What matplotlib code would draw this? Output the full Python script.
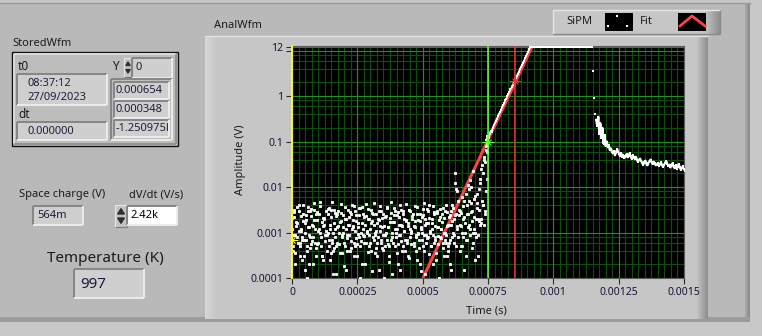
import matplotlib
matplotlib.use('Agg')
import matplotlib.pyplot as plt
import numpy as np
from matplotlib.patches import Rectangle, Polygon

plt.rcParams['font.family'] = ['Noto Sans', 'DejaVu Sans']

# ---- data ----
dt = 4e-6  # sample spacing of the waveform (s)

# baseline noise before the pulse, in mV, samples at 0, dt, 2dt ...
noise_a_mV = [
    2.1, 0.4, 3.2, 0.9, 0.05, 1.6, 0.6, 4.1, 0.3, 1.2,
    0.7, 2.6, 0.15, 1.9, 0.5, 3.6, 0.2, 0.8, 2.3, 0.04,
    1.4, 4.4, 0.6, 0.3, 2.8, 1.1, 0.08, 3.9, 0.5, 1.7,
    0.25, 2.0, 0.9, 0.06, 3.3, 0.7, 1.5, 0.35, 4.6, 1.0,
    0.45, 2.7, 0.12, 1.3, 3.0, 0.55, 0.03, 1.8, 0.8, 2.4,
    0.18, 3.7, 1.2, 0.4, 0.09, 2.2, 0.65, 4.0, 1.4, 0.3,
    2.9, 0.75, 0.07, 1.6, 3.4, 0.5, 1.0, 0.2, 2.5, 0.85,
    0.05, 4.3, 1.1, 0.38, 2.0, 0.6, 3.1, 0.14, 1.5, 0.9,
    2.6, 0.3, 0.02, 1.9, 3.8, 0.7, 1.3, 0.42, 0.1, 2.2,
    1.0, 3.5, 0.55, 0.22, 1.7, 4.8, 0.8, 0.06, 2.4, 1.2,
    0.35, 2.8, 0.9, 0.15, 3.2, 1.4, 0.5, 2.0, 0.04, 4.2,
    0.7, 1.6, 0.28, 3.0, 1.1, 0.08, 2.5, 0.6, 1.8, 0.4,
    3.6, 0.95, 0.2, 1.3, 2.2, 0.5, 4.5, 0.12, 1.6, 0.75,
    2.9, 0.33, 1.0, 0.05, 2.0, 3.9, 0.6, 1.4, 0.25, 2.7,
    0.85, 0.1, 3.3, 1.2, 0.45, 2.1, 0.7, 4.0, 0.3, 1.5,
    0.6, 2.4, 0.15, 1.8, 3.5, 0.9, 20.0, 2.6, 8.0, 0.07,
    3.1, 1.5, 0.5, 6.0, 0.8, 2.2, 0.3, 4.0, 1.3, 9.0,
    14.0, 2.8, 0.45, 1.0, 5.5, 0.25, 2.0, 7.0, 0.9, 3.2,
    12.0, 1.6, 30.0, 4.0, 45.0, 2.5, 80.0, 60.0,
]
# in-between samples, in mV, at dt/2, dt/2 + dt ...
noise_b_mV = [
    0.9, 2.8, 0.2, 1.4, 3.7, 0.06, 1.1, 0.5, 2.3, 0.8,
    4.0, 0.3, 1.6, 0.7, 0.1, 2.9, 1.3, 0.45, 3.3, 0.65,
    0.2, 1.9, 2.5, 0.55, 0.04, 1.2, 4.7, 0.8, 0.3, 2.1,
    1.5, 0.07, 2.9, 0.4, 1.0, 3.5, 0.25, 2.2, 0.6, 0.12,
    3.1, 1.2, 0.5, 2.5, 0.08, 1.7, 4.2, 0.35, 1.0, 0.6,
    2.0, 0.15, 0.9, 3.2, 1.5, 0.4, 2.6, 0.05, 1.3, 3.8,
    0.5, 1.8, 0.3, 0.95, 2.4, 0.1, 3.6, 1.2, 0.6, 0.2,
    2.3, 1.0, 3.3, 0.5, 0.03, 1.6, 2.7, 0.8, 4.4, 0.35,
    1.1, 0.6, 2.0, 0.15, 1.4, 3.0, 0.45, 2.5, 0.9, 0.07,
    3.7, 1.3, 0.3, 2.1, 0.7, 0.12, 1.7, 3.4, 0.5, 1.0,
    2.4, 0.2, 1.5, 4.0, 0.65, 0.09, 2.9, 1.1, 0.4, 1.8,
    0.3, 3.1, 1.2, 0.55, 2.3, 0.06, 1.4, 3.8, 0.8, 0.25,
    1.9, 0.7, 2.6, 0.14, 1.0, 3.3, 0.4, 2.0, 0.9, 0.05,
    1.6, 4.1, 0.5, 1.2, 0.2, 2.5, 0.8, 0.35, 3.0, 1.3,
    0.1, 2.2, 0.75, 1.7, 3.5, 0.3, 1.0, 0.6, 2.8, 0.4,
    1.5, 0.2, 3.0, 0.8, 2.0, 12.0, 0.5, 1.4, 5.0, 2.4,
    0.4, 2.7, 1.0, 3.8, 0.15, 1.6, 7.0, 0.7, 2.5, 5.0,
    1.2, 10.0, 3.0, 0.6, 2.2, 1.0, 4.5, 0.3, 1.8, 15.0,
    2.0, 5.0, 20.0, 1.5, 35.0, 8.0, 90.0,
]
# third set of samples, in mV, at dt/4, dt/4 + dt ...
noise_c_mV = [
    1.2, 0.5, 2.2, 0.35, 1.7, 0.8, 2.9, 0.6, 1.1, 0.25,
    1.8, 0.7, 1.0, 2.4, 0.4, 1.3, 0.9, 3.0, 0.55, 1.5,
    0.8, 3.2, 1.2, 0.45, 1.9, 0.6, 2.5, 1.0, 0.3, 1.4,
    2.1, 0.65, 1.1, 0.9, 2.6, 0.5, 1.2, 3.1, 0.7, 0.4,
    1.6, 0.8, 2.3, 0.6, 1.4, 1.0, 0.35, 2.7, 0.9, 1.3,
    0.5, 2.0, 0.75, 1.5, 0.9, 2.8, 0.45, 1.2, 1.9, 0.6,
    1.1, 2.4, 0.55, 1.3, 0.8, 3.4, 0.65, 1.6, 0.9, 2.2,
    1.5, 0.6, 2.0, 0.9, 1.2, 0.4, 1.8, 2.6, 0.7, 1.0,
    0.45, 1.6, 0.8, 2.9, 1.1, 0.6, 2.1, 0.9, 1.4, 0.5,
    2.3, 0.7, 1.3, 0.5, 2.7, 1.0, 0.6, 1.7, 3.0, 0.8,
    1.2, 0.55, 2.2, 0.9, 1.5, 0.4, 2.5, 1.1, 0.7, 1.9,
    0.6, 1.4, 3.2, 0.8, 1.0, 2.0, 0.5, 1.3, 0.9, 2.6,
    1.0, 0.45, 1.8, 1.2, 0.7, 2.4, 0.9, 1.5, 0.6, 3.3,
    0.8, 2.1, 1.1, 0.5, 1.6, 0.9, 2.8, 0.7, 1.3, 0.55,
    1.9, 0.8, 1.2, 2.5, 0.6, 1.0, 3.0, 0.9, 1.4, 0.5,
    2.2, 0.7, 1.5, 4.0, 1.0, 0.6, 2.4, 9.0, 1.2, 0.8,
    3.0, 1.4, 0.5, 2.0, 5.0, 1.0, 0.7, 2.6, 11.0, 1.5,
    0.9, 4.5, 1.8, 22.0, 1.2, 6.5, 0.8, 3.5, 2.0, 9.0,
    1.5, 25.0, 4.0, 40.0, 3.0, 65.0, 15.0,
]
rise_t0 = 0.000744
rise_V = [
    0.11, 0.13, 0.12, 0.15, 0.17, 0.16, 0.2, 0.23, 0.25, 0.29,
    0.32, 0.36, 0.41, 0.44, 0.5, 0.57, 0.62, 0.7, 0.8, 0.88,
    1.0, 1.1, 1.25, 1.4, 1.55, 1.75, 1.95, 2.2, 2.45, 2.75,
    3.1, 3.4, 3.9, 4.3, 4.8, 5.4, 6.0, 6.8, 7.6, 8.5,
    9.5, 10.6, 12.0,
]
sat_t0 = 0.000916
saturated_V = [12.0] * 59
drop_t0 = 0.001152
drop_V = [3.5, 0.9, 0.4]
decay_t0 = 0.001164
decay_V = [
    0.3, 0.22, 0.35, 0.15, 0.25,
    0.12, 0.2, 0.09, 0.14, 0.08, 0.1, 0.075, 0.085, 0.065, 0.07,
    0.06, 0.055, 0.062, 0.05, 0.058, 0.068, 0.06, 0.052, 0.048, 0.055,
    0.046, 0.05, 0.044, 0.048, 0.052, 0.045, 0.049, 0.055, 0.047, 0.042,
    0.05, 0.045, 0.041, 0.046, 0.04, 0.036, 0.039, 0.042, 0.037, 0.034,
    0.031, 0.035, 0.038, 0.033, 0.03, 0.034, 0.037, 0.04, 0.035, 0.032,
    0.036, 0.033, 0.03, 0.031, 0.034, 0.029, 0.032, 0.035, 0.03, 0.028,
    0.031, 0.034, 0.037, 0.032, 0.029, 0.031, 0.027, 0.03, 0.033, 0.028,
    0.026, 0.03, 0.025, 0.028, 0.032, 0.027, 0.024, 0.026, 0.029, 0.025,
    0.023, 0.025,
]

# exponential fit (straight on the log scale)
fit_t = [0.000501, 0.000918]
fit_V = [1e-4, 12.0]

# cursors: time, amplitude of the crosshair, colour
cursor_t = [0.0, 0.00075, 0.000855]
cursor_V = [7e-4, 0.1, 2.1]
cursor_col = ['#ffff00', '#66ff33', '#ff2a2a']

xticks = [0, 0.00025, 0.0005, 0.00075, 0.001, 0.00125, 0.0015]
xlabels = ['0', '0.00025', '0.0005', '0.00075', '0.001', '0.00125', '0.0015']
yticks = [0.0001, 0.001, 0.01, 0.1, 1, 12]
ylabels = ['0.0001', '0.001', '0.01', '0.1', '1', '12']

# ---- figure ----
W, H = 762, 336
PANEL = '#b9b9b9'
FRAME = '#c6c6c6'
FIELD = '#cfcfcf'
TXT = '#1c1c1c'
fig = plt.figure(figsize=(W / 100, H / 100), dpi=100, facecolor='#c8c8c8')
bg = fig.add_axes([0, 0, 1, 1])
bg.set_xlim(0, W)
bg.set_ylim(H, 0)
bg.axis('off')


def rect(x0, y0, x1, y1, fc, ec='none', lw=0):
    bg.add_patch(Rectangle((x0, y0), x1 - x0, y1 - y0, facecolor=fc, edgecolor=ec, lw=lw))


def edges(x0, y0, x1, y1, tl, br, lw=1.0):
    bg.plot([x0, x1], [y0, y0], color=tl, lw=lw, solid_capstyle='butt')
    bg.plot([x0, x0], [y0, y1], color=tl, lw=lw, solid_capstyle='butt')
    bg.plot([x0, x1], [y1, y1], color=br, lw=lw, solid_capstyle='butt')
    bg.plot([x1, x1], [y0, y1], color=br, lw=lw, solid_capstyle='butt')


def field(x0, y0, x1, y1, fc=FIELD):
    rect(x0, y0, x1, y1, fc)
    edges(x0, y0, x1, y1, '#858585', '#ececec', lw=1.4)


def shade_right(x1, y0, y1, width, c0, c1):
    # gradient strip at the right of a raised box
    a = np.array(matplotlib.colors.to_rgb(c0))
    b = np.array(matplotlib.colors.to_rgb(c1))
    for k in range(width):
        f = k / max(width - 1, 1)
        rect(x1 - width + k, y0, x1 - width + k + 1, y1, tuple(a + (b - a) * f))


def spinner(x0, y0, x1, y1):
    rect(x0, y0, x1, y1, '#c4c4c4')
    edges(x0, y0, x1, y1, '#e8e8e8', '#7a7a7a', lw=0.8)
    xm = (x0 + x1) / 2
    ym = (y0 + y1) / 2
    s = (x1 - x0) * 0.28
    bg.add_patch(Polygon([[xm - s, ym - 2], [xm + s, ym - 2], [xm, ym - 2 - 1.6 * s]], color='#303030'))
    bg.add_patch(Polygon([[xm - s, ym + 2], [xm + s, ym + 2], [xm, ym + 2 + 1.6 * s]], color='#303030'))


# outer raised panel
rect(0, 3, 750, 322, PANEL)
bg.plot([0, 750], [3, 3], color='#9a9a9a', lw=1)
shade_right(750, 3, 322, 5, '#a8a8a8', '#8a8a8a')
rect(0, 317, 750, 322, '#9c9c9c')

# StoredWfm cluster
bg.text(12, 44, 'StoredWfm', fontsize=8, color=TXT, va='center')
rect(12, 52, 178, 146, '#bdbdbd', ec='#111111', lw=1.0)
edges(14, 54, 176, 144, '#e2e2e2', '#8c8c8c', lw=1.2)
bg.text(18, 66, 't0', fontsize=8.5, fontweight='bold', color=TXT, va='center')
field(17, 74, 107, 105)
bg.text(27, 83, '08:37:12', fontsize=8, color='#1e1e3c', va='center')
bg.text(27, 97, '27/09/2023', fontsize=8, color='#1e1e3c', va='center')
bg.text(18, 114, 'dt', fontsize=8.5, fontweight='bold', color=TXT, va='center')
field(17, 122, 107, 140)
bg.text(27, 131, '0.000000', fontsize=8, color='#1e1e3c', va='center')
bg.text(112, 67, 'Y', fontsize=8.5, fontweight='bold', color=TXT, va='center')
spinner(124, 58, 132, 77)
field(132, 58, 172, 78)
bg.text(136, 68, '0', fontsize=8, color='#1e1e3c', va='center')
field(111, 79, 172, 140, fc='#bdbdbd')
for k, s in enumerate(['0.000654', '0.000348', '-1.250975l']):
    yy = 82 + k * 19
    field(114, yy, 169, yy + 17)
    bg.text(116, yy + 8.5, s, fontsize=8, color='#1e1e3c', va='center')

# space charge / dV/dt / temperature
bg.text(62, 195, 'Space charge (V)', fontsize=8, color=TXT, ha='center', va='center')
field(33, 206, 83, 225)
bg.text(37, 216, '564m', fontsize=8, color='#1e1e3c', va='center')
bg.text(156, 195, 'dV/dt (V/s)', fontsize=8, color=TXT, ha='center', va='center')
spinner(115, 205, 127, 227)
field(127, 206, 177, 225, fc='white')
bg.text(130, 216, '2.42k', fontsize=8, color='black', va='center')
bg.text(105, 258, 'Temperature (K)', fontsize=11, color=TXT, ha='center', va='center')
field(74, 269, 144, 298)
bg.text(80, 284, '997', fontsize=11, color='#1e1e3c', va='center')

# graph frame
rect(205, 36, 708, 319, FRAME)
bg.plot([205, 708], [36, 36], color='#e2e2e2', lw=1)
shade_right(217, 36, 319, 12, '#d6d6d6', FRAME)
shade_right(708, 36, 319, 12, FRAME, '#8e8e8e')
bg.text(214, 26, 'AnalWfm', fontsize=8, color=TXT, va='center')
bg.text(240, 160, 'Amplitude (V)', fontsize=8, color=TXT, rotation=90, ha='center', va='center')
bg.text(486, 311, 'Time (s)', fontsize=8, color=TXT, ha='center', va='center')

# legend
rect(553, 10, 720, 34, FRAME)
edges(553, 10, 720, 34, '#e6e6e6', '#8a8a8a', lw=1)
shade_right(720, 10, 34, 16, FRAME, '#8e8e8e')
bg.text(566, 22, 'SiPM', fontsize=8, color=TXT, va='center')
rect(605, 13, 633, 31, 'black')
bg.plot([617, 608, 627], [16, 26, 26], ls='none', marker='s', ms=1.6, mew=0, color='white')
bg.text(640, 22, 'Fit', fontsize=8, color=TXT, va='center')
rect(678, 13, 706, 31, 'black')
bg.plot([680, 692, 705], [26, 16, 26], color='#ff4040', lw=2)

# ---- the plot itself ----
ax = fig.add_axes([292 / W, 1 - 278 / H, (684 - 292) / W, (278 - 46) / H])
ax.set_facecolor('black')
ax.set_yscale('log')
ax.set_xlim(0, 0.0015)
ax.set_ylim(1e-4, 12.6)

grid_x = np.arange(0, 0.0015 + 1e-9, 0.000025)
for gx in grid_x:
    ax.axvline(gx, color='#0d4f0d', lw=0.8, zorder=1)
for d in range(-4, 1):
    for m in (2, 4, 6, 8):
        ax.axhline(m * 10.0 ** d, color='#0d4f0d', lw=0.8, zorder=1)
for gx in xticks:
    ax.axvline(gx, color='#1f8f1f', lw=0.8, zorder=1)
for gy in yticks + [10]:
    ax.axhline(gy, color='#1f8f1f', lw=0.8, zorder=1)

# fit under the data
ax.plot(fit_t, fit_V, color='#ff4040', lw=2.2, zorder=3, solid_capstyle='butt')

# baseline noise as small white dots
for off, vals in [(0.0, noise_a_mV), (dt / 2, noise_b_mV), (dt / 4, noise_c_mV)]:
    tt = off + np.arange(len(vals)) * dt
    ax.plot(tt, np.array(vals) * 1e-3, ls='none', marker='s', ms=1.6, mew=0.6,
            mec='white', color='white', zorder=4)

# pulse: rise + saturated top, drop, decay tail
t_rise = rise_t0 + np.arange(len(rise_V)) * dt
t_sat = sat_t0 + np.arange(len(saturated_V)) * dt
t_drop = drop_t0 + np.arange(len(drop_V)) * dt
t_decay = decay_t0 + np.arange(len(decay_V)) * dt
ax.plot(np.concatenate([t_rise, t_sat]), rise_V + saturated_V, color='white', lw=1.2,
        marker='s', ms=1.6, mew=0, zorder=4)
ax.plot(t_drop, drop_V, ls='none', marker='s', ms=1.8, mew=0, color='white', zorder=4)
ax.plot(t_decay, decay_V, color='white', lw=1.6, marker='s', ms=1.8, mew=0, zorder=4)

for ct, cv, cc in zip(cursor_t, cursor_V, cursor_col):
    ax.axvline(ct, color=cc, lw=1.4 if ct == 0 else 1.1, zorder=5, clip_on=(ct != 0))
    ax.plot([ct], [cv], marker='+', ms=8, mew=0.8, color=cc, zorder=6)
    ax.plot([ct], [cv], marker='x', ms=5, mew=0.8, color=cc, zorder=6)

ax.set_xticks(xticks)
ax.set_xticklabels(xlabels)
ax.set_xticks([], minor=True)
ax.set_yticks(yticks)
ax.set_yticklabels(ylabels)
ax.set_yticks([10], minor=True)
ax.set_yticklabels([''], minor=True)
ax.tick_params(which='both', direction='out', length=4.5, width=0.8, color='#2a2a2a',
               labelsize=7.5, labelcolor='#14143a', pad=2)
for sp in ax.spines.values():
    sp.set_color('#5a5a5a')
    sp.set_linewidth(0.8)

fig.savefig('out.png', dpi=100, facecolor=fig.get_facecolor())
